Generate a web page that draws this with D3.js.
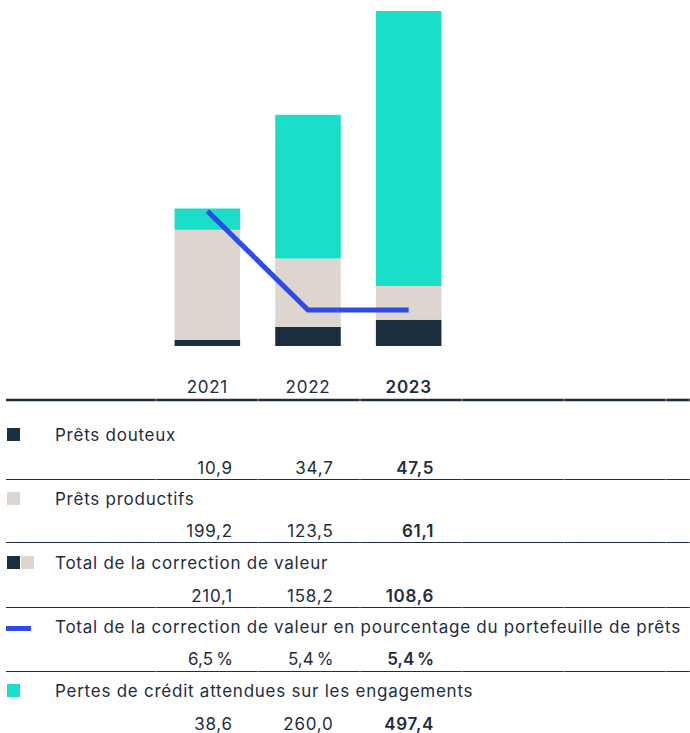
<!DOCTYPE html>
<html>
<head>
<meta charset="utf-8">
<script src="https://cdn.jsdelivr.net/npm/d3@7"></script>
<style>
    html, body { margin: 0; padding: 0; background: #fff; }
    svg { display: block; font-family: Inter, "Noto Sans", sans-serif; }
</style>
</head>
<body>
<div id="chart"></div>
<script>
// données
const years = ['2021', '2022', '2023'];
const pretsDouteux = [10.9, 34.7, 47.5];
const pretsProductifs = [199.2, 123.5, 61.1];
const totalCorrection = [210.1, 158.2, 108.6];
const pourcentage = [6.5, 5.4, 5.4];
const pertesEngagements = [38.6, 260.0, 497.4];

const C_DARK = '#1b2e3f';
const C_BEIGE = '#ddd5cf';
const C_TEAL = '#19dfc9';
const C_BLUE = '#2c4be9';
const C_TEXT = '#1e2d3c';

const width = 690, height = 733;
const FS = 17, LS = 0.75;
const fr = d3.formatLocale({ decimal: ',', thousands: ' ', grouping: [3], currency: ['', ' €'] });
const fmt = fr.format('.1f');

const svg = d3.select('#chart').append('svg')
    .attr('width', width)
    .attr('height', height);

// échelles
const x = d3.scaleBand()
    .domain(years)
    .range([157, 459])
    .paddingInner(0.349)
    .paddingOuter(0.1745);

const stackData = years.map((y, i) => ({
    year: y,
    douteux: pretsDouteux[i],
    productifs: pretsProductifs[i],
    engagements: pertesEngagements[i]
}));

const keys = ['douteux', 'productifs', 'engagements'];
const colors = { douteux: C_DARK, productifs: C_BEIGE, engagements: C_TEAL };
const series = d3.stack().keys(keys)(stackData);

const yMax = d3.max(stackData, d => d.douteux + d.productifs + d.engagements);
const y = d3.scaleLinear().domain([0, yMax]).range([346, 11]);
const yPct = d3.scaleLinear().domain([5, 7]).range([346, 166]);

// barres empilées
svg.append('g')
    .selectAll('g')
    .data(series)
    .enter().append('g')
    .attr('fill', d => colors[d.key])
    .selectAll('rect')
    .data(d => d)
    .enter().append('rect')
    .attr('x', d => x(d.data.year))
    .attr('width', x.bandwidth())
    .attr('y', d => y(d[1]))
    .attr('height', d => y(d[0]) - y(d[1]));

// ligne du pourcentage
const line = d3.line()
    .x((d, i) => x(years[i]) + x.bandwidth() / 2)
    .y(d => yPct(d));

svg.append('path')
    .datum(pourcentage)
    .attr('d', line)
    .attr('fill', 'none')
    .attr('stroke', C_BLUE)
    .attr('stroke-width', 5)
    .attr('stroke-linejoin', 'miter');

// tableau
const cellEdges = [6, 156, 258, 360, 462, 564, 666, 690];
const valueRight = years.map(yr => x(yr) + x.bandwidth() / 2 + 25.5);

function drawRule(yPos, thick) {
    const g = svg.append('g');
    for (let i = 0; i < cellEdges.length - 1; i++) {
        g.append('line')
            .attr('x1', cellEdges[i] + (i > 0 ? 0.25 : 0))
            .attr('x2', cellEdges[i + 1] - 0.25)
            .attr('y1', yPos)
            .attr('y2', yPos)
            .attr('stroke', C_TEXT)
            .attr('stroke-width', thick ? 2.6 : 1);
    }
}

// en-tête
svg.append('g')
    .selectAll('text')
    .data(years)
    .enter().append('text')
    .attr('x', d => x(d) + x.bandwidth() / 2)
    .attr('y', 393)
    .attr('text-anchor', 'middle')
    .attr('font-size', FS)
    .attr('letter-spacing', LS)
    .attr('font-weight', (d, i) => i === years.length - 1 ? 600 : 400)
    .attr('fill', C_TEXT)
    .text(d => d);

drawRule(400, true);

const rows = [
    { label: 'Prêts douteux', values: pretsDouteux, glyph: 'square', color: C_DARK },
    { label: 'Prêts productifs', values: pretsProductifs, glyph: 'square', color: C_BEIGE },
    { label: 'Total de la correction de valeur', values: totalCorrection, glyph: 'double' },
    { label: 'Total de la correction de valeur en pourcentage du portefeuille de prêts', values: pourcentage, glyph: 'line', pct: true },
    { label: 'Pertes de crédit attendues sur les engagements', values: pertesEngagements, glyph: 'square', color: C_TEAL }
];

const labelBase = [441, 505, 569, 633, 697];
const valueBase = [474, 537, 602, 665, 730];
const ruleY = [479.5, 542.5, 607.5, 671.5];

rows.forEach((row, r) => {
    const g = svg.append('g');
    const lb = labelBase[r];

    if (row.glyph === 'square') {
        g.append('rect').attr('x', 7).attr('y', lb - 13).attr('width', 13).attr('height', 13).attr('fill', row.color);
    } else if (row.glyph === 'double') {
        g.append('rect').attr('x', 7).attr('y', lb - 13).attr('width', 13).attr('height', 13).attr('fill', C_DARK);
        g.append('rect').attr('x', 21).attr('y', lb - 13).attr('width', 13).attr('height', 13).attr('fill', C_BEIGE);
    } else {
        g.append('rect').attr('x', 6).attr('y', lb - 7).attr('width', 25).attr('height', 5).attr('fill', C_BLUE);
    }

    g.append('text')
        .attr('x', 55)
        .attr('y', lb)
        .attr('font-size', FS)
        .attr('letter-spacing', LS)
        .attr('fill', C_TEXT)
        .text(row.label);

    g.selectAll('text.val')
        .data(row.values)
        .enter().append('text')
        .attr('class', 'val')
        .attr('x', (d, i) => valueRight[i])
        .attr('y', valueBase[r])
        .attr('text-anchor', 'end')
        .attr('font-size', FS)
        .attr('letter-spacing', LS)
        .attr('font-weight', (d, i) => i === row.values.length - 1 ? 600 : 400)
        .attr('fill', C_TEXT)
        .text(d => row.pct ? fmt(d) + '\u202F%' : fmt(d));

    if (r < ruleY.length) drawRule(ruleY[r], false);
});
</script>
</body>
</html>
